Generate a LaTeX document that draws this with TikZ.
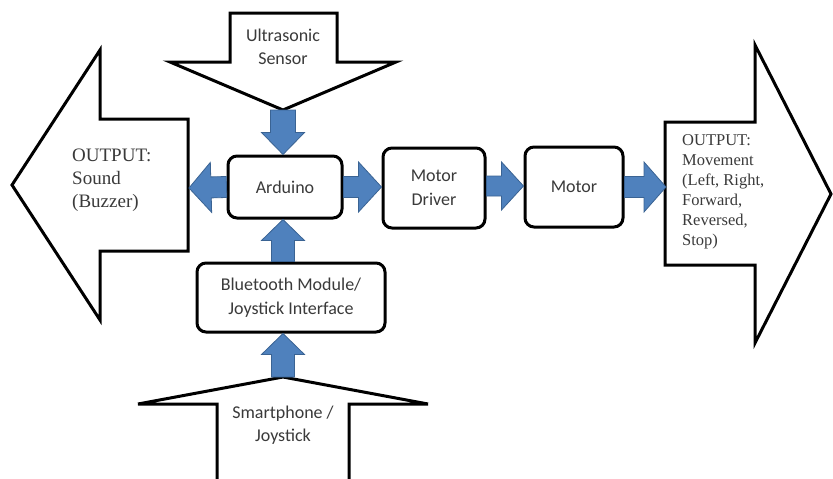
\documentclass[tikz,border=0pt]{standalone}
\usepackage{fontspec}
\setmainfont{Liberation Serif}
\newfontfamily\calfont{Carlito}
\usetikzlibrary{calc}
\definecolor{bfill}{HTML}{4F81BD}
\definecolor{bline}{HTML}{3A6393}
\definecolor{txt}{HTML}{3A3A3A}
\newcommand\blockarr[5]{%
  \coordinate (ba) at (#1);
  \coordinate (bb) at (#2);
  \coordinate (bh) at ($(bb)!#5!(ba)$);
  \filldraw[bluearrow] ($(ba)!#3!90:(bb)$) -- ($(bh)!#3!-90:(ba)$) -- ($(bh)!#4!-90:(ba)$) -- (bb)
    -- ($(bh)!#4!90:(ba)$) -- ($(bh)!#3!90:(ba)$) -- ($(ba)!#3!-90:(bb)$) -- cycle;}
\begin{document}
\begin{tikzpicture}[x=1pt,y=-1pt,
  box/.style={draw, line width=3pt, rounded corners=9pt, fill=white, text=txt,
    font=\calfont\fontsize{18}{24}\selectfont, align=center, inner sep=0pt},
  bigarrow/.style={draw, line width=3pt, line join=miter, fill=white},
  bluearrow/.style={fill=bfill, draw=bline, line width=0.8pt},
  sanslabel/.style={text=txt, font=\calfont\fontsize{18}{23}\selectfont, align=center, inner sep=0pt},
  seriflabel/.style={text=txt, align=left, inner sep=0pt, anchor=north west}]
\useasboundingbox (0,0) rectangle (833,479);
\begin{scope}
\clip (0,0) rectangle (833,479);
% big arrows
\draw[bigarrow] (230,13) -- (337,13) -- (337,62) -- (396,62) -- (283,110) coordinate (usTip)
  -- (170,62) -- (230,62) -- cycle;
\draw[bigarrow] (12,185) -- (100,50) -- (100,119) -- (188,119) -- (188,251) -- (100,251)
  -- (100,320) -- cycle;
\draw[bigarrow] (665,122) -- (755,122) -- (755,45) -- (831,194) -- (755,343) -- (755,265)
  -- (665,265) -- cycle;
\draw[bigarrow] (283,377) coordinate (phoneTip) -- (428,404) -- (349,404) -- (349,490)
  -- (217,490) -- (217,404) -- (138,404) -- cycle;
\end{scope}
\coordinate (soundIn) at (189,188);
\coordinate (moveIn) at (666,187);
% labels in big arrows
\node[sanslabel] (us) at (283,47) {Ultrasonic\\Sensor};
\node[sanslabel] (phone) at (283,425) {Smartphone /\\Joystick};
\node[seriflabel, font=\fontsize{19}{23}\selectfont] (sound) at (72,149) {OUTPUT:\\Sound\\(Buzzer)};
\node[seriflabel, font=\fontsize{16.5}{20}\selectfont] (move) at (682,134)
  {OUTPUT:\\Movement\\(Left, Right,\\Forward,\\Reversed,\\Stop)};
% boxes
\node[box, minimum width=114pt, minimum height=62pt] (ard) at (285,187) {Arduino};
\node[box, minimum width=102pt, minimum height=80pt] (drv) at (434,188) {Motor\\Driver};
\node[box, minimum width=98pt, minimum height=80pt] (mot) at (574,187) {Motor};
\node[box, minimum width=188pt, minimum height=69pt] (bt) at (291,297.5) {Bluetooth Module/\\Joystick Interface};
% blue block arrows
\blockarr{usTip}{usTip |- ard.north}{12.5pt}{21.5pt}{22pt}
\blockarr{ard.west}{soundIn}{10.5pt}{25pt}{22pt}
\blockarr{ard.east}{drv.west |- ard.east}{10.5pt}{25pt}{23pt}
\blockarr{drv.east |- 0,186}{mot.west |- 0,186}{10pt}{24pt}{22pt}
\blockarr{mot.east}{moveIn}{10.5pt}{25pt}{22pt}
\blockarr{usTip |- bt.north}{usTip |- ard.south}{11.5pt}{21.5pt}{21pt}
\blockarr{phoneTip}{usTip |- bt.south}{11.5pt}{21.5pt}{21pt}
\end{tikzpicture}
\end{document}
